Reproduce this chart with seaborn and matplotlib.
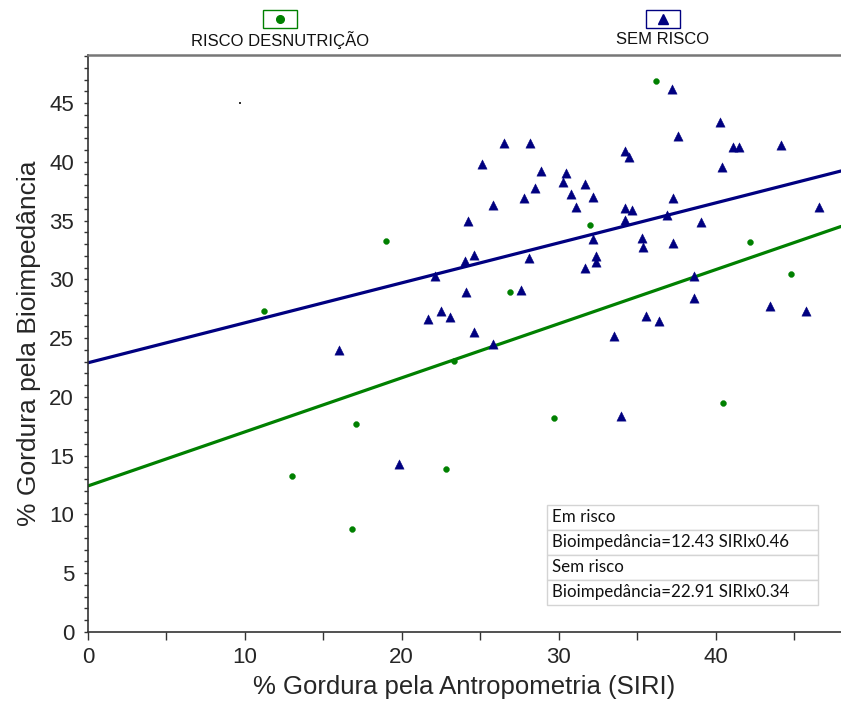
import matplotlib
matplotlib.use("Agg")
import matplotlib.pyplot as plt
import seaborn as sns
import numpy as np
import pandas as pd
from matplotlib.lines import Line2D
from matplotlib.patches import Rectangle

# Risco de desnutrição (em risco)
risco_siri = [11.2, 19.0, 13.0, 17.1, 16.8, 22.8, 23.3, 26.9, 29.7, 32.0,
              36.2, 42.2, 44.8, 40.5]
risco_bio = [27.3, 33.3, 13.3, 17.7, 8.8, 13.9, 23.1, 28.9, 18.2, 34.6,
             46.9, 33.2, 30.5, 19.5]

# Sem risco
sem_siri = [16.0, 19.8, 21.7, 22.1, 22.5, 23.1, 24.0, 24.1, 24.2, 24.6,
            24.6, 25.1, 25.8, 25.8, 26.5, 27.6, 27.8, 28.1, 28.2, 28.5,
            28.9, 30.3, 30.5, 30.8, 31.1, 31.7, 31.7, 32.2, 32.2, 32.4,
            32.4, 33.5, 34.0, 34.2, 34.2, 34.2, 34.5, 34.7, 35.3, 35.4,
            35.6, 36.4, 36.9, 37.2, 37.3, 37.3, 37.6, 38.6, 38.6, 39.1,
            40.3, 40.4, 41.1, 41.5, 43.5, 44.2, 45.8, 46.6]
sem_bio = [24.0, 14.3, 26.6, 30.3, 27.3, 26.8, 31.6, 28.9, 35.0, 32.1,
           25.5, 39.8, 36.3, 24.5, 41.6, 29.1, 36.9, 31.8, 41.6, 37.8,
           39.2, 38.3, 39.1, 37.3, 36.2, 38.1, 31.0, 37.0, 33.4, 31.5,
           32.0, 25.2, 18.4, 40.9, 36.1, 35.1, 40.4, 35.9, 33.5, 32.8,
           26.9, 26.5, 35.5, 46.2, 36.9, 33.1, 42.2, 30.3, 28.4, 34.9,
           43.4, 39.6, 41.3, 41.3, 27.7, 41.4, 27.3, 36.2]

# stray dot in the original export
stray_x = [9.7]
stray_y = [45.0]

# regression lines (intercept, slope) as given in the table
risco_coef = (12.43, 0.46)
sem_coef = (22.91, 0.34)

table_rows = ["Em risco",
              "Bioimpedância=12.43 SIRIx0.46",
              "Sem risco",
              "Bioimpedância=22.91 SIRIx0.34"]

GREEN = "#008000"
NAVY = "#000080"

sns.set_style("white")
plt.rcParams['font.family'] = ['Liberation Sans', 'DejaVu Sans']

fig = plt.figure(figsize=(8.41, 7.04), dpi=100)
ax = fig.add_axes([88 / 841, 72 / 704, 753 / 841, 577 / 704])

xmin, xmax = 0, 48
x_line = np.array([xmin, xmax])

# Regression lines
sns.lineplot(x=x_line, y=sem_coef[0] + sem_coef[1] * x_line,
             color=NAVY, lw=2.3, ax=ax)
sns.lineplot(x=x_line, y=risco_coef[0] + risco_coef[1] * x_line,
             color=GREEN, lw=2.3, ax=ax)

# Points
df_sem = pd.DataFrame({"siri": sem_siri, "bio": sem_bio})
df_risco = pd.DataFrame({"siri": risco_siri, "bio": risco_bio})
sns.scatterplot(data=df_sem, x="siri", y="bio", marker="^", s=45,
                color=NAVY, edgecolor=NAVY, linewidth=0.3, ax=ax, zorder=3)
sns.scatterplot(data=df_risco, x="siri", y="bio", marker="o", s=18,
                color=GREEN, edgecolor=GREEN, linewidth=0.3, ax=ax, zorder=3)
sns.scatterplot(x=stray_x, y=stray_y, marker="s", s=1.5, color="#333333",
                edgecolor="none", ax=ax)

ax.set_xlim(xmin, xmax)
ax.set_ylim(0, 49.1)
ax.set_xticks([0, 10, 20, 30, 40])
ax.set_xticks(np.arange(0, 48, 5), minor=True)
ax.set_yticks(np.arange(0, 46, 5))
ax.set_yticks(np.arange(0, 50, 1), minor=True)

ax.tick_params(axis="x", which="both", direction="out", length=6, width=1,
               color="#333333", labelsize=16, pad=5, bottom=True)
ax.tick_params(axis="y", which="both", direction="out", length=3, width=1,
               color="#333333", labelsize=16, pad=7, left=True)

for side in ["left", "bottom"]:
    ax.spines[side].set_color("#333333")
    ax.spines[side].set_linewidth(1.2)
ax.spines["top"].set_color("#777777")
ax.spines["top"].set_linewidth(1.8)
ax.spines["right"].set_visible(False)

ax.set_xlabel("% Gordura pela Antropometria (SIRI)", fontsize=18.5, labelpad=5)
ax.set_ylabel("% Gordura pela Bioimpedância", fontsize=19, labelpad=6)

# Equation table
tbl = ax.table(cellText=[[r] for r in table_rows], cellLoc="left",
               bbox=[(547 - 88) / 753, (632 - 605) / 577, 271 / 753, 100 / 577])
tbl.auto_set_font_size(False)
tbl.set_fontsize(12.2)
for cell in tbl.get_celld().values():
    cell.set_edgecolor("#d4d4d4")
    cell.set_linewidth(1.0)
    cell.PAD = 0.018
    cell.get_text().set_fontfamily(["Lato", "DejaVu Sans"])
    cell.get_text().set_color("#111111")

# Legend at the top
legend_items = [("RISCO DESNUTRIÇÃO", GREEN, "o", 5.5, 280),
                ("SEM RISCO", NAVY, "^", 7, 662.5)]
for label, col, mk, ms, cx in legend_items:
    fig.add_artist(Rectangle(((cx - 17) / 841, 1 - 28 / 704), 34 / 841, 18 / 704,
                             transform=fig.transFigure, fill=False,
                             edgecolor=col, linewidth=1.0))
    fig.add_artist(Line2D([cx / 841], [1 - 19 / 704], marker=mk, markersize=ms,
                          color=col, linestyle="none",
                          transform=fig.transFigure))
    fig.text(cx / 841, 1 - 40 / 704, label, ha="center", va="center",
             fontsize=12, color="#111111")

fig.savefig("out.png", dpi=100)
